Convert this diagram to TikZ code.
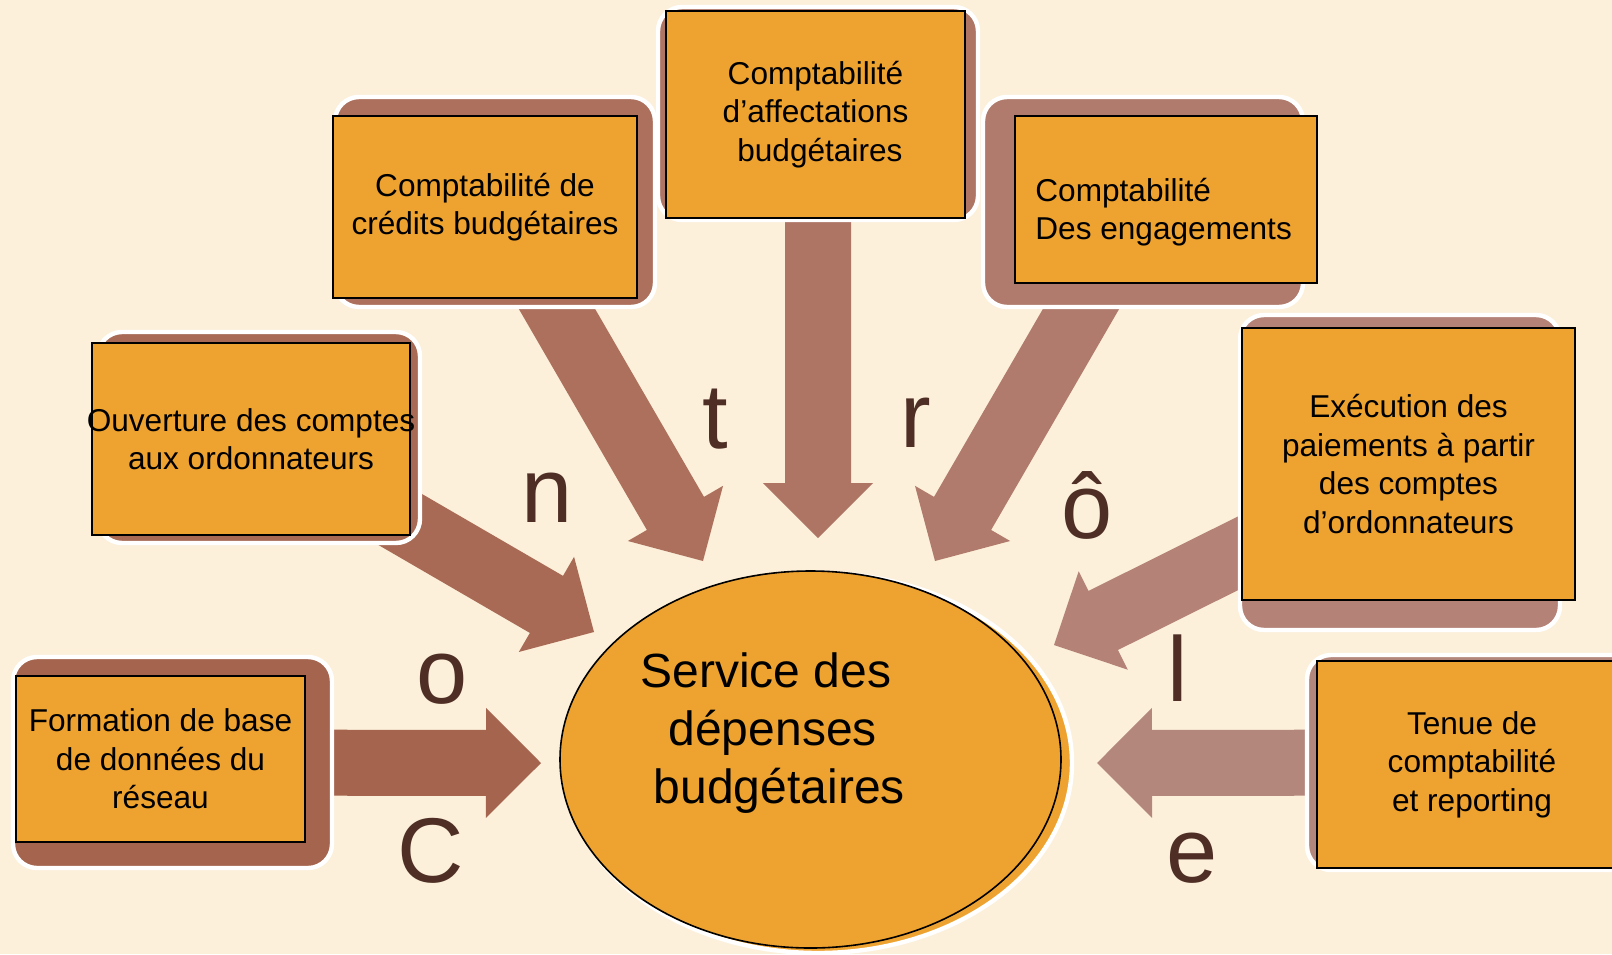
\documentclass[tikz,border=0pt]{standalone}
\usepackage{fontspec}
\setmainfont{Liberation Sans}
\usetikzlibrary{calc,shapes.geometric}

\definecolor{creme}{HTML}{FCF0DA}
\definecolor{orangeB}{HTML}{EEA22F}
\definecolor{brunL}{HTML}{4F2F25}
\definecolor{brunA}{HTML}{A4644E}
\definecolor{brunB}{HTML}{A86A55}
\definecolor{brunC}{HTML}{AC705D}
\definecolor{brunD}{HTML}{AE7565}
\definecolor{brunE}{HTML}{B07B6C}
\definecolor{brunF}{HTML}{B48277}
\definecolor{brunG}{HTML}{B4877D}

\pgfdeclarelayer{fond}
\pgfdeclarelayer{fleches}
\pgfsetlayers{fond,fleches,main}

\newcommand{\flecheBloc}[3]{%
  \coordinate (hb) at ($(#2)!27.5pt!(#1)$);
  \fill[#3] ($(#1)!16.5pt!90:(#2)$) -- ($(hb)!16.5pt!90:(#2)$) -- ($(hb)!27.5pt!90:(#2)$) -- (#2)
    -- ($(hb)!27.5pt!-90:(#2)$) -- ($(hb)!16.5pt!-90:(#2)$) -- ($(#1)!16.5pt!-90:(#2)$) -- cycle;}

\begin{document}
\begin{tikzpicture}
[x=0.5pt, y=-0.5pt,
socle/.style={fill=#1, draw=white, line width=2.2pt, rounded corners=12pt, inner sep=0pt},
boite/.style={fill=orangeB, draw=black, line width=0.9pt, inner sep=0pt, align=center, font=\fontsize{15.8}{19.3}\selectfont},
lettre/.style={text=brunL, anchor=base, inner sep=0pt, font=\fontsize{46}{46}\selectfont}]
\begin{pgfonlayer}{fond}
\fill[creme] (0,0) rectangle (1612,954);
\end{pgfonlayer}
\useasboundingbox (0,0) rectangle (1612,954);
\clip (0,0) rectangle (1612,954);

\node[socle=brunA, minimum width=159.5pt, minimum height=105.5pt] (socleForm) at (172.5,762.5) {};
\node[boite, minimum width=144.5pt, minimum height=83pt] (form) at (160.5,759) {Formation de base\\de données du\\réseau};
\node[socle=brunB, minimum width=161pt, minimum height=105.5pt] (socleOuv) at (259,437.5) {};
\node[boite, minimum width=159pt, minimum height=96pt] (ouv) at (251,439) {\makebox[0pt]{Ouverture des comptes}\\aux ordonnateurs};
\node[socle=brunC, minimum width=160pt, minimum height=105pt] (socleCred) at (495,202) {};
\node[boite, minimum width=152pt, minimum height=91pt] (cred) at (485,207) {Comptabilité de\\crédits budgétaires};
\node[socle=brunD, minimum width=160pt, minimum height=106.5pt] (socleAff) at (818,113.5) {};
\node[boite, minimum width=149.5pt, minimum height=103.5pt] (aff) at (815.5,114.5) {Comptabilité\\d’affectations\\\ budgétaires};
\node[socle=brunE, minimum width=160pt, minimum height=105pt] (socleEng) at (1143,202) {};
\node[boite, minimum width=151pt, minimum height=83.5pt] (eng) at (1166,199.5) {};
\node[inner sep=0pt, anchor=west, align=left, font=\fontsize{15.8}{19.3}\selectfont] (engTxt) at (1035,212) {Comptabilité\\Des engagements};
\node[socle=brunF, minimum width=160pt, minimum height=157.5pt] (socleExe) at (1400,472.5) {};
\node[boite, minimum width=166.5pt, minimum height=136pt] (exe) at (1408.5,464) {Exécution des\\paiements à partir\\des comptes\\d’ordonnateurs};
\node[socle=brunG, minimum width=165pt, minimum height=107.5pt] (socleTen) at (1472,762.5) {};
\node[boite, minimum width=155pt, minimum height=103.5pt] (ten) at (1472,764.5) {Tenue de\\comptabilité\\et reporting};

\node[ellipse, fill=orangeB, draw=white, line width=2.2pt, minimum width=254pt, minimum height=190pt, inner sep=0pt] (ombre) at (818,763) {};
\node[ellipse, fill=orangeB, draw=black, line width=0.8pt, minimum width=250.5pt, minimum height=188.5pt, inner sep=0pt] (service) at (810.5,759.5) {};
\node[inner sep=0pt, align=center, font=\fontsize{24}{29}\selectfont] (serviceTxt) at (766,733) {Service des\\\ dépenses\\\ \ budgétaires};

\node[lettre] (lC) at (431,882) {C};
\node[lettre] (lo) at (442,703) {o};
\node[lettre] (ln) at (547,522) {n};
\node[lettre] (lt) at (715,448) {t};
\node[lettre] (lr) at (916,447) {r};
\node[lettre] (lô) at (1087,538) {ô};
\node[lettre] (ll) at (1178,701) {l};
\node[lettre] (le) at (1192,882) {e};

\begin{pgfonlayer}{fleches}
\coordinate (pForm) at (541,763);
\coordinate (pOuv) at (594,632);
\coordinate (pCred) at (703,561);
\coordinate (pAff) at (818,538);
\coordinate (pEng) at (935,561);
\coordinate (pExe) at (1054,645);
\coordinate (pTen) at (1097,763);
\flecheBloc{socleForm}{pForm}{brunA}
\flecheBloc{socleOuv}{pOuv}{brunB}
\flecheBloc{socleCred}{pCred}{brunC}
\flecheBloc{socleAff}{pAff}{brunD}
\flecheBloc{socleEng}{pEng}{brunE}
\flecheBloc{socleExe}{pExe}{brunF}
\flecheBloc{socleTen}{pTen}{brunG}
\end{pgfonlayer}
\end{tikzpicture}
\end{document}
